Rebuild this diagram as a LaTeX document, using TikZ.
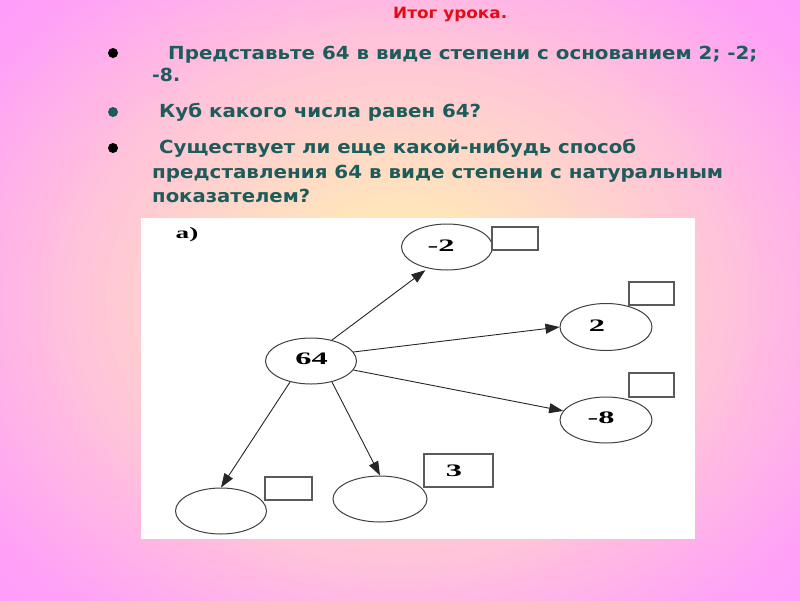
\documentclass[tikz,border=0pt]{standalone}
\usepackage{fontspec}
\usepackage{graphicx}
\usetikzlibrary{arrows.meta,shapes.geometric}
\setmainfont{DejaVu Sans}
\newfontfamily\numfont{Liberation Serif}
\newfontfamily\bodyfont{DejaVu Sans}
\definecolor{bg0}{RGB}{255,240,176}
\definecolor{bg1}{RGB}{255,228,188}
\definecolor{bg2}{RGB}{255,212,204}
\definecolor{bg3}{RGB}{255,195,218}
\definecolor{bg4}{RGB}{255,178,232}
\definecolor{bg5}{RGB}{255,162,246}
\definecolor{bg6}{RGB}{255,152,255}
\definecolor{teal}{RGB}{28,92,90}
\definecolor{titlered}{RGB}{230,10,20}
\newcommand\fitline[2]{\resizebox{#1}{\height}{#2}}
\newcommand\dnum[1]{\scalebox{1.85}[1]{\numfont\bfseries #1}}
% one band of the background: inner colour, outer colour, inner f, outer f
\newcommand\bgband[4]{%
  \foreach \j in {12,11,...,1}{%
    \pgfmathsetmacro\ff{#3+(#4-#3)*\j/12}%
    \pgfmathsetmacro\pp{100*\j/12}%
    \fill[#2!\pp!#1] (400,300) ellipse [x radius=410*\ff, y radius=330*\ff];
  }}
\tikzset{
  bodytext/.style={anchor=base west, inner sep=0pt, text=teal,
    font=\bodyfont\bfseries\fontsize{18}{22}\selectfont},
  bulletdot/.style={circle, inner sep=0pt, minimum size=10pt},
  ell/.style={ellipse, draw=black!75, line width=1pt, minimum width=91pt,
    minimum height=46pt, inner sep=0pt},
  sq/.style={rectangle, draw=black!65, line width=1.1pt, inner sep=0pt,
    font=\fontsize{17.5}{18}\selectfont},
  numtext/.style={inner sep=0pt, font=\fontsize{17.5}{18}\selectfont},
  arr/.style={draw=black!85, line width=0.9pt, -{Triangle[length=14pt,width=10pt]}}
}
\begin{document}
\begin{tikzpicture}[x=1pt,y=-1pt]
\useasboundingbox (0,0) rectangle (800,600);
\clip (0,0) rectangle (800,600);
\fill[bg6] (0,0) rectangle (800,600);
\bgband{bg5}{bg6}{1.2}{1.45}
\bgband{bg4}{bg5}{1.0}{1.2}
\bgband{bg3}{bg4}{0.8}{1.0}
\bgband{bg2}{bg3}{0.55}{0.8}
\bgband{bg1}{bg2}{0.3}{0.55}
\bgband{bg0}{bg1}{0.0}{0.3}
% title
\node[anchor=base west, inner sep=0pt, text=titlered,
  font=\bodyfont\bfseries\fontsize{15.5}{18}\selectfont] (title) at (393,18)
  {\fitline{114pt}{Итог урока.}};
% bullets and text
\node[bulletdot, fill=black] (b1) at (113,53) {};
\node[bodytext] (l1) at (168,59) {\fitline{589pt}{Представьте 64 в виде степени с основанием 2; -2;}};
\node[bodytext] (l1b) at (152,81) {\fitline{28pt}{-8.}};
\node[bulletdot, fill=teal] (b2) at (113,112) {};
\node[bodytext] (l2) at (159,117) {\fitline{322pt}{Куб какого числа равен 64?}};
\node[bulletdot, fill=black] (b3) at (113,148) {};
\node[bodytext] (l3) at (159,153) {\fitline{477pt}{Существует ли еще какой-нибудь способ}};
\node[bodytext] (l3b) at (152,178) {\fitline{571pt}{представления 64 в виде степени с натуральным}};
\node[bodytext] (l3c) at (152,202) {\fitline{158pt}{показателем?}};
% white panel
\fill[white] (141,218) rectangle (695,539);
\node[inner sep=0pt, font=\fontsize{16}{17}\selectfont] (alab) at (187,235)
  {\scalebox{1.7}[1]{\numfont\bfseries a)}};
% ellipses
\node[ell] (c64) at (311,361) {};
\node[ell] (cm2) at (447,247) {};
\node[ell, minimum width=92pt, minimum height=47pt] (c2) at (606,327) {};
\node[ell, minimum width=92pt] (cm8) at (606,420) {};
\node[ell, minimum width=94pt] (c3) at (380,499) {};
\node[ell] (cbl) at (221,511) {};
% numbers in ellipses
\node[numtext] (t64) at (311.5,359) {\dnum{64}};
\node[numtext] (tm2) at (441,246) {\dnum{-2}};
\node[numtext] (t2) at (597,326) {\dnum{2}};
\node[numtext] (tm8) at (601,418) {\dnum{-8}};
% boxes
\node[sq, minimum width=46pt, minimum height=23pt] (bm2) at (515,238.5) {};
\node[sq, minimum width=45pt, minimum height=23pt] (b2) at (651.5,293.5) {};
\node[sq, minimum width=45pt, minimum height=24pt] (bm8) at (651.5,385) {};
\node[sq, minimum width=69pt, minimum height=33pt] (b3) at (458.5,470.5) {\hspace*{-9pt}\dnum{3}};
\node[sq, minimum width=47pt, minimum height=23pt] (bbl) at (288.5,488.5) {};
% arrows
\draw[arr, shorten >=3pt] (c64.45) -- (cm2.228);
\draw[arr] (c64.12) -- (c2.180);
\draw[arr] (c64.-12) -- (cm8.168);
\draw[arr] (c64.-45) -- (c3.90);
\draw[arr] (c64.225) -- (cbl.90);
\end{tikzpicture}
\end{document}
